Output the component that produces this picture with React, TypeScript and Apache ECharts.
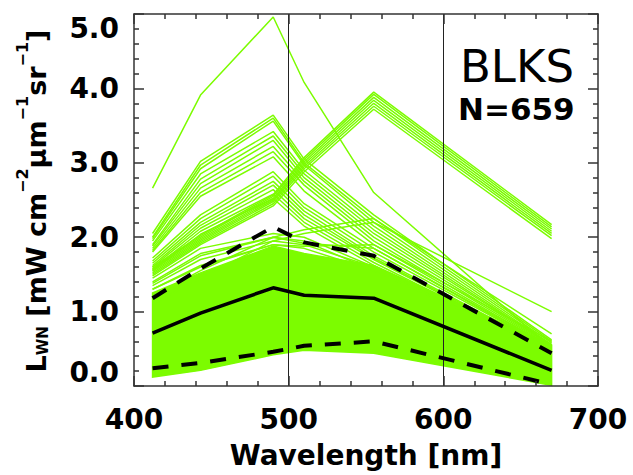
import React, { useEffect, useRef } from 'react';
import * as echarts from 'echarts';

// SeaWiFS-type bands (nm)
const wavelengths = [412, 443, 490, 510, 555, 670];

// Statistics (black lines)
const meanLwn = [0.71, 0.98, 1.32, 1.22, 1.18, 0.21];
const meanPlusStd = [1.18, 1.58, 2.14, 1.93, 1.75, 0.44];
const meanMinusStd = [0.24, 0.31, 0.46, 0.54, 0.6, 0.02];

// Dense core of the 659 spectra (solid green mass)
const coreLower = [0.12, 0.21, 0.42, 0.48, 0.44, 0.01];
const coreUpper = [1.25, 1.52, 1.88, 1.78, 1.62, 0.55];

// Individual spectra visible outside the dense core
const outlierSpectrum = [2.66, 3.91, 4.96, 4.08, 2.6, 0.5];
const upperGroup = [
  [2.05, 3.02, 3.64, 3.05, 2.3, 0.62],
  [2.0, 2.97, 3.6, 3.0, 2.25, 0.6],
  [1.98, 2.92, 3.56, 2.97, 2.2, 0.58],
  [1.95, 2.85, 3.42, 2.9, 2.15, 0.56],
  [1.9, 2.78, 3.36, 2.85, 2.1, 0.55],
  [1.88, 2.72, 3.3, 2.8, 2.05, 0.55],
  [1.85, 2.66, 3.22, 2.75, 2.0, 0.54],
  [1.82, 2.6, 3.15, 2.7, 1.95, 0.53],
  [1.8, 2.55, 3.08, 2.62, 1.9, 0.52],
];
const middleGroup = [
  [1.72, 2.3, 2.88, 2.45, 1.85, 0.5],
  [1.68, 2.25, 2.82, 2.4, 1.8, 0.5],
  [1.65, 2.2, 2.75, 2.35, 1.75, 0.48],
  [1.62, 2.16, 2.7, 2.3, 1.72, 0.48],
  [1.6, 2.12, 2.64, 2.25, 1.7, 0.47],
  [1.57, 2.08, 2.58, 2.2, 1.66, 0.46],
  [1.55, 2.04, 2.52, 2.15, 1.62, 0.45],
];
const greenPeakGroup = [
  [1.48, 1.9, 2.42, 2.88, 3.72, 1.98],
  [1.5, 1.92, 2.45, 2.92, 3.76, 2.02],
  [1.52, 1.94, 2.48, 2.95, 3.8, 2.05],
  [1.54, 1.96, 2.5, 2.98, 3.84, 2.08],
  [1.56, 1.98, 2.52, 3.01, 3.88, 2.11],
  [1.58, 2.0, 2.55, 3.04, 3.92, 2.14],
  [1.6, 2.02, 2.57, 3.07, 3.95, 2.17],
];
const lowerGroup = [
  [1.1, 1.45, 1.95, 2.05, 2.2, 1.0],
  [1.2, 1.55, 2.0, 2.1, 2.25, 0.7],
  [1.45, 1.85, 2.05, 2.0, 1.6, 0.5],
  [1.4, 1.78, 2.0, 1.95, 1.55, 0.48],
  [1.35, 1.7, 1.95, 1.9, 1.6, 0.5],
  [1.3, 1.62, 1.9, 1.85, 1.55, 0.48],
  [1.38, 1.75, 2.0, 1.92, 1.85, 0.52],
  [1.3, 1.6, 1.9, 1.88, 1.9, 0.6],
];

const verticalMarks = [500, 600];

const GREEN = '#7CFC00';
const FONT = '"DejaVu Sans", sans-serif';

const pts = (vals: number[]) => wavelengths.map((w, i) => [w, vals[i]]);

export default function App() {
  const ref = useRef<HTMLDivElement>(null);

  useEffect(() => {
    if (!ref.current) return;
    const chart = echarts.init(ref.current, null, { renderer: 'svg' });

    const allSpectra = [outlierSpectrum, ...upperGroup, ...middleGroup, ...greenPeakGroup, ...lowerGroup];

    const greenLine = (vals: number[]) => ({
      type: 'line',
      data: pts(vals),
      symbol: 'none',
      silent: true,
      lineStyle: { color: GREEN, width: 1.5 },
      z: 2,
    });

    const tickStyle = { color: '#333', width: 1.5 };

    const option: any = {
      animation: false,
      grid: { left: 134, right: 35, top: 14, bottom: 89, containLabel: false },
      xAxis: [
        {
          type: 'value',
          position: 'bottom',
          min: 400,
          max: 700,
          interval: 100,
          name: 'Wavelength [nm]',
          nameLocation: 'middle',
          nameGap: 55,
          nameTextStyle: { fontFamily: FONT, fontSize: 28, fontWeight: 'bold', color: '#000' },
          axisLine: { show: true, onZero: false, lineStyle: tickStyle },
          axisTick: { show: true, inside: true, length: 10, lineStyle: tickStyle },
          minorTick: { show: true, splitNumber: 5, length: 5, lineStyle: tickStyle },
          splitLine: { show: false },
          axisLabel: { fontFamily: FONT, fontSize: 28, fontWeight: 'bold', color: '#000', margin: 19 },
          z: 10,
        },
        {
          type: 'value',
          position: 'top',
          min: 400,
          max: 700,
          interval: 100,
          axisLine: { show: true, onZero: false, lineStyle: tickStyle },
          axisTick: { show: true, inside: true, length: 10, lineStyle: tickStyle },
          minorTick: { show: true, splitNumber: 5, length: 5, lineStyle: tickStyle },
          splitLine: { show: false },
          axisLabel: { show: false },
          z: 10,
        },
      ],
      yAxis: [
        {
          type: 'value',
          position: 'left',
          min: 0,
          max: 5,
          interval: 1,
          axisLine: { show: true, onZero: false, lineStyle: tickStyle },
          axisTick: { show: true, inside: true, length: 10, lineStyle: tickStyle },
          minorTick: { show: true, splitNumber: 5, length: 5, lineStyle: tickStyle },
          splitLine: { show: false },
          axisLabel: {
            fontFamily: FONT,
            fontSize: 28,
            fontWeight: 'bold',
            color: '#000',
            margin: 15,
            formatter: (v: number) => v.toFixed(1),
            verticalAlignMaxLabel: 'top',
            verticalAlignMinLabel: 'bottom',
          },
          z: 10,
        },
        {
          type: 'value',
          position: 'right',
          min: 0,
          max: 5,
          interval: 1,
          axisLine: { show: true, onZero: false, lineStyle: tickStyle },
          axisTick: { show: true, inside: true, length: 10, lineStyle: tickStyle },
          minorTick: { show: true, splitNumber: 5, length: 5, lineStyle: tickStyle },
          splitLine: { show: false },
          axisLabel: { show: false },
          z: 10,
        },
      ],
      series: [
        {
          type: 'custom',
          coordinateSystem: 'cartesian2d',
          silent: true,
          z: 1,
          data: wavelengths.map((w, i) => [w, coreLower[i], coreUpper[i]]),
          encode: { x: 0, y: [1, 2] },
          renderItem: (params: any, api: any) => {
            if (params.dataIndex !== 0) return null;
            const upper = wavelengths.map((w, i) => api.coord([w, coreUpper[i]]));
            const lower = wavelengths.map((w, i) => api.coord([w, coreLower[i]])).reverse();
            return {
              type: 'polygon',
              shape: { points: [...upper, ...lower] },
              style: { fill: GREEN, stroke: GREEN, lineWidth: 1.5 },
            };
          },
        },
        ...allSpectra.map(greenLine),
        {
          type: 'line',
          data: pts(meanLwn),
          symbol: 'none',
          silent: true,
          lineStyle: { color: '#000', width: 3.5 },
          z: 5,
          markLine: {
            silent: true,
            symbol: 'none',
            label: { show: false },
            lineStyle: { color: '#222', width: 1, type: 'solid' },
            data: verticalMarks.map((x) => ({ xAxis: x })),
          },
        },
        {
          type: 'line',
          data: pts(meanPlusStd),
          symbol: 'none',
          silent: true,
          lineStyle: { color: '#000', width: 4, type: [16, 13] },
          z: 5,
        },
        {
          type: 'line',
          data: pts(meanMinusStd),
          symbol: 'none',
          silent: true,
          lineStyle: { color: '#000', width: 4, type: [16, 13] },
          z: 5,
        },
      ],
      graphic: [
        {
          type: 'text',
          x: 460,
          y: 66,
          style: {
            text: 'BLKS',
            fontFamily: FONT,
            fontSize: 45,
            fill: '#000',
            align: 'left',
            verticalAlign: 'middle',
            textAlign: 'left',
            textVerticalAlign: 'middle',
          },
        },
        {
          type: 'text',
          x: 458,
          y: 109,
          style: {
            text: 'N=659',
            fontFamily: FONT,
            fontSize: 31,
            fontWeight: 'bold',
            fill: '#000',
            align: 'left',
            verticalAlign: 'middle',
            textAlign: 'left',
            textVerticalAlign: 'middle',
          },
        },
        {
          type: 'text',
          x: 36,
          y: 201,
          rotation: Math.PI / 2,
          style: {
            text: '{m|L}{s|WN}{m| [mW cm}{p|\u22122}{m|\u00b5m}{p|\u22121}{m|sr}{p|\u22121}{m|]}',
            fill: '#000',
            align: 'center',
            verticalAlign: 'middle',
            textAlign: 'center',
            textVerticalAlign: 'middle',
            rich: {
              m: { fontFamily: FONT, fontSize: 27, fontWeight: 'bold', fill: '#000', color: '#000', lineHeight: 56, verticalAlign: 'middle' },
              s: { fontFamily: FONT, fontSize: 15, fontWeight: 'bold', fill: '#000', color: '#000', lineHeight: 15, verticalAlign: 'middle', padding: [14, 0, 0, 0] },
              p: { fontFamily: FONT, fontSize: 16, fontWeight: 'bold', fill: '#000', color: '#000', lineHeight: 16, verticalAlign: 'top', padding: [6, 0, 0, 0] },
            },
          },
        },
      ],
    };

    chart.setOption(option);
    return () => chart.dispose();
  }, []);

  return (
    <div
      ref={ref}
      style={{ position: 'absolute', left: 0, top: 0, width: 633, height: 475 }}
    />
  );
}
